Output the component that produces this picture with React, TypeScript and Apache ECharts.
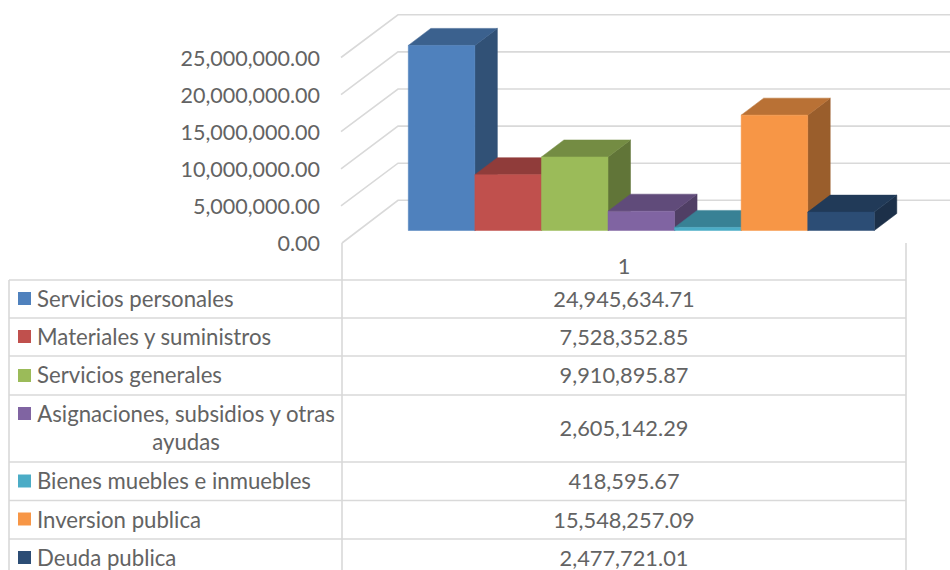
import React, { useEffect, useRef } from "react";
import * as echarts from "echarts";

const seriesNames = [
  "Servicios personales",
  "Materiales y suministros",
  "Servicios generales",
  "Asignaciones, subsidios y otras\nayudas",
  "Bienes muebles e inmuebles",
  "Inversion publica",
  "Deuda publica",
];
const seriesValues = [
  24945634.71, 7528352.85, 9910895.87, 2605142.29, 418595.67, 15548257.09, 2477721.01,
];
const seriesColors = ["#4F81BD", "#C0504D", "#9BBB59", "#8064A2", "#4BACC6", "#F79646", "#2C4D75"];
const categoryLabels = ["1"];
const axisTicks = [0, 5000000, 10000000, 15000000, 20000000, 25000000];

const GRID_COLOR = "#D9D9D9";
const TEXT_COLOR = "#636363";
const FONT = "Lato, Carlito, Calibri, sans-serif";
const FONT_SIZE = 21.8;
const NAME_FONT_SIZE = 22.2;
const AXIS_FONT_SIZE = 21.5;

const rowTops = [280, 318, 356, 395, 462, 500.5, 539];
const rowCentres = [298, 336, 374.5, 427.5, 480, 519, 557];
const swatchTops = [292, 330, 369, 407, 474.5, 512.5, 551];

const shade = (hex: string, f: number) => {
  const n = parseInt(hex.slice(1), 16);
  const r = Math.round(((n >> 16) & 255) * f);
  const g = Math.round(((n >> 8) & 255) * f);
  const b = Math.round((n & 255) * f);
  return `rgb(${r},${g},${b})`;
};

const fmt = (v: number) =>
  v.toLocaleString("en-US", { minimumFractionDigits: 2, maximumFractionDigits: 2 });

const line = (x1: number, y1: number, x2: number, y2: number) => ({
  type: "line",
  silent: true,
  shape: { x1, y1, x2, y2 },
  style: { stroke: GRID_COLOR, lineWidth: 1.6 },
});

const text = (t: string, x: number, y: number, align: string, fontSize: number) => ({
  type: "text",
  silent: true,
  x,
  y,
  style: {
    text: t,
    fill: TEXT_COLOR,
    fontFamily: FONT,
    fontSize,
    lineHeight: 28,
    align,
    verticalAlign: "middle",
  },
});

export default function App() {
  const ref = useRef<HTMLDivElement>(null);
  useEffect(() => {
    document.body.style.margin = "0";
    const chart = echarts.init(ref.current!, null, { renderer: "svg" });

    const graphics: any[] = [];
    rowTops.forEach((y) => graphics.push(line(9, y, 906, y)));
    graphics.push(line(9, 280, 9, 570), line(342, 243, 342, 570), line(906, 243, 906, 570));
    seriesNames.forEach((name, i) => {
      graphics.push({
        type: "rect",
        silent: true,
        shape: { x: 18, y: swatchTops[i], width: 13, height: 13 },
        style: { fill: seriesColors[i] },
      });
      if (name.includes("\n")) graphics.push(text(name, 186, rowCentres[i], "center", NAME_FONT_SIZE));
      else graphics.push(text(name, 37, rowCentres[i], "left", NAME_FONT_SIZE));
      graphics.push(text(fmt(seriesValues[i]), 624, rowCentres[i], "center", FONT_SIZE));
    });

    const wallSeries = {
      type: "custom",
      xAxisIndex: 0,
      yAxisIndex: 0,
      silent: true,
      clip: false,
      data: axisTicks.map((t) => [categoryLabels[0], t]),
      renderItem: (params: any, api: any) => {
        const p = api.coord([categoryLabels[0], api.value(1)]);
        const left = params.coordSys.x;
        return {
          type: "polyline",
          shape: {
            points: [
              [left - (api.value(1) === 0 ? 0 : 1), p[1]],
              [left + 56, p[1] - 42.7],
              [950, p[1] - 42.7],
            ],
          },
          style: { stroke: GRID_COLOR, lineWidth: 1.6, fill: "none" },
        };
      },
      encode: { x: 0, y: 1 },
    };

    const barSeries = seriesNames.map((name, i) => ({
      type: "custom",
      name,
      xAxisIndex: 1,
      yAxisIndex: 1,
      silent: true,
      clip: false,
      data: [[i, seriesValues[i]]],
      encode: { x: 0, y: 1 },
      renderItem: (_: any, api: any) => {
        const idx = api.value(0);
        const top = api.coord([idx, api.value(1)]);
        const base = api.coord([idx, 0]);
        const w = api.size([1, 0])[0];
        const x0 = top[0] - w / 2;
        const x1 = top[0] + w / 2;
        const dx = 22.5;
        const dy = 17;
        const c = seriesColors[i];
        const face = (points: number[][], fill: string) => ({
          type: "polygon",
          shape: { points },
          style: { fill, stroke: fill, lineWidth: 0.5 },
        });
        return {
          type: "group",
          children: [
            face(
              [
                [x1, top[1]],
                [x1 + dx, top[1] - dy],
                [x1 + dx, base[1] - dy],
                [x1, base[1]],
              ],
              shade(c, 0.625)
            ),
            face(
              [
                [x0, top[1]],
                [x0 + dx, top[1] - dy],
                [x1 + dx, top[1] - dy],
                [x1, top[1]],
              ],
              shade(c, 0.75)
            ),
            face(
              [
                [x0, top[1]],
                [x1, top[1]],
                [x1, base[1]],
                [x0, base[1]],
              ],
              c
            ),
          ],
        };
      },
    }));

    chart.setOption({
      animation: false,
      backgroundColor: "#ffffff",
      textStyle: { fontFamily: FONT },
      grid: [
        { left: 342, top: 57.5, width: 564, height: 185.5 },
        { left: 408.3, top: 45, width: 466, height: 185.5 },
      ],
      xAxis: [
        {
          gridIndex: 0,
          type: "category",
          data: categoryLabels,
          axisLine: { show: false },
          axisTick: { show: false },
          axisLabel: { color: TEXT_COLOR, fontSize: FONT_SIZE, fontFamily: FONT, margin: 11 },
        },
        {
          gridIndex: 1,
          type: "category",
          data: seriesValues.map((_, i) => i),
          show: false,
        },
      ],
      yAxis: [
        {
          gridIndex: 0,
          type: "value",
          min: 0,
          max: 25000000,
          interval: 5000000,
          axisLine: { show: false },
          axisTick: { show: false },
          splitLine: { show: false },
          axisLabel: {
            color: TEXT_COLOR,
            fontSize: AXIS_FONT_SIZE,
            fontFamily: FONT,
            margin: 22,
            padding: [5, 0, 0, 0],
            formatter: (v: number) => fmt(v),
          },
        },
        {
          gridIndex: 1,
          type: "value",
          min: 0,
          max: 25000000,
          interval: 5000000,
          show: false,
        },
      ],
      graphic: graphics,
      series: [wallSeries, ...barSeries],
    });
    return () => chart.dispose();
  }, []);
  return <div ref={ref} style={{ width: 950, height: 570, display: "block" }} />;
}
